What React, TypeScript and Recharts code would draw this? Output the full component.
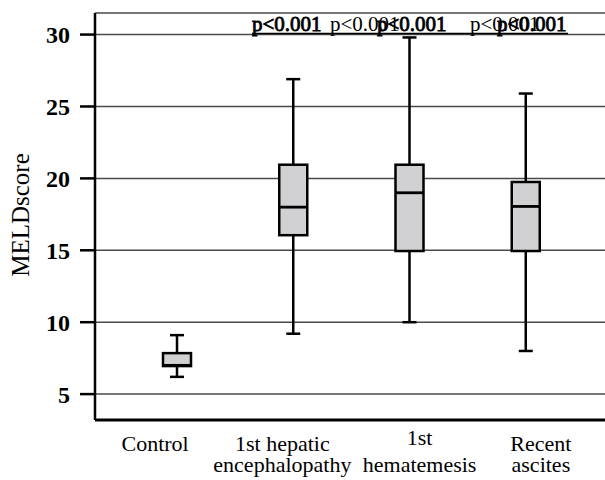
import React from 'react';
import { ComposedChart, Bar, XAxis, YAxis, CartesianGrid, Customized } from 'recharts';

const categories = ['Control', '1st hepatic encephalopathy', '1st hematemesis', 'Recent ascites'];
const tickLines: string[][] = [['Control'], ['1st hepatic', 'encephalopathy'], ['1st', 'hematemesis'], ['Recent', 'ascites']];
const whiskerLow = [6.2, 9.2, 10, 8];
const q1 = [6.95, 16.05, 14.95, 14.95];
const median = [7, 18, 19, 18.05];
const q3 = [7.85, 20.95, 20.95, 19.75];
const whiskerHigh = [9.1, 26.9, 29.8, 25.9];
const yTicks = [5, 10, 15, 20, 25, 30];
const pLabel = 'p<0.001';

const data = categories.map((name, i) => ({
  name,
  idx: i,
  min: whiskerLow[i],
  q1: q1[i],
  median: median[i],
  q3: q3[i],
  max: whiskerHigh[i],
  range: [whiskerLow[i], whiskerHigh[i]],
}));

const FONT = "'Liberation Serif', 'Times New Roman', serif";

const BoxShape = (props: any) => {
  const { x, y, width, height, payload } = props;
  if (payload == null || x == null) return null;
  const top = Math.min(y, y + height);
  const h = Math.abs(height);
  const span = payload.max - payload.min;
  const py = (v: number) => top + ((payload.max - v) / span) * h;
  const cx = x + width / 2;
  const bw = 28;
  const cap = 14;
  const yMax = py(payload.max);
  const yMin = py(payload.min);
  const yQ1 = py(payload.q1);
  const yQ3 = py(payload.q3);
  const yMed = py(payload.median);
  return (
    <g>
      <line x1={cx} x2={cx} y1={yMax} y2={yQ3} stroke="#000" strokeWidth={2.5} />
      <line x1={cx} x2={cx} y1={yQ1} y2={yMin} stroke="#000" strokeWidth={2.5} />
      <line x1={cx - cap / 2} x2={cx + cap / 2} y1={yMax} y2={yMax} stroke="#000" strokeWidth={2.5} />
      <line x1={cx - cap / 2} x2={cx + cap / 2} y1={yMin} y2={yMin} stroke="#000" strokeWidth={2.5} />
      <rect x={cx - bw / 2} y={yQ3} width={bw} height={yQ1 - yQ3} fill="#d1d1d3" stroke="#000" strokeWidth={2.5} />
      <line x1={cx - bw / 2} x2={cx + bw / 2} y1={yMed} y2={yMed} stroke="#000" strokeWidth={2.8} />
    </g>
  );
};

const labelDx = [-22, -11, 10, 15];
const firstLineDy = [31, 31, 25, 31];

const XTick = (props: any) => {
  const { x, y, payload } = props;
  const i = payload.index;
  const lines = tickLines[i];
  return (
    <g>
      {lines.map((t, k) => (
        <text
          key={k}
          x={x + labelDx[i]}
          y={y + (k === 0 ? firstLineDy[i] : 52)}
          textAnchor="middle"
          fontFamily={FONT}
          fontSize={22}
          fill="#000"
        >
          {t}
        </text>
      ))}
    </g>
  );
};

const Annotations = () => {
  const pos = [252, 330, 377, 470, 497];
  const bold = [true, false, true, false, true];
  return (
    <g>
      <text
        x={29}
        y={215}
        transform="rotate(-90, 29, 215)"
        textAnchor="middle"
        fontFamily={FONT}
        fontSize={25}
        fill="#000"
      >
        MELDscore
      </text>
      {pos.map((px, i) => (
        <text
          key={i}
          x={px}
          y={31}
          fontFamily={FONT}
          fontSize={21}
          fill="#000"
          stroke={bold[i] ? '#000' : 'none'}
          strokeWidth={bold[i] ? 0.8 : 0}
        >
          {pLabel}
        </text>
      ))}
      <line x1={252} x2={568} y1={33.5} y2={33.5} stroke="#000" strokeWidth={1.6} />
    </g>
  );
};

export default function App() {
  return (
    <div style={{ position: 'absolute', left: 0, top: 0, width: 605, height: 480, background: '#fff' }}>
      <ComposedChart
        width={605}
        height={480}
        data={data}
        margin={{ top: 13, right: 0, bottom: 0, left: 0 }}
      >
        <CartesianGrid horizontal={true} vertical={false} stroke="#4a4a4a" strokeWidth={1.5} />
        <XAxis
          dataKey="name"
          type="category"
          padding={{ left: 24, right: 21 }}
          axisLine={{ stroke: '#000', strokeWidth: 3 }}
          tickLine={false}
          tickSize={0}
          tickMargin={0}
          interval={0}
          tick={<XTick />}
          height={60}
        />
        <YAxis
          type="number"
          domain={[3.2, 31.5]}
          ticks={yTicks}
          allowDataOverflow
          width={95}
          axisLine={{ stroke: '#000', strokeWidth: 2.5 }}
          tickLine={{ stroke: '#000', strokeWidth: 2.5 }}
          tickSize={15}
          tickMargin={10}
          tick={{ fontFamily: FONT, fontSize: 24, fontWeight: 'bold', fill: '#000' }}
        />
        <Bar dataKey="range" barSize={28} shape={<BoxShape />} isAnimationActive={false} />
        <Customized component={Annotations} />
      </ComposedChart>
    </div>
  );
}
